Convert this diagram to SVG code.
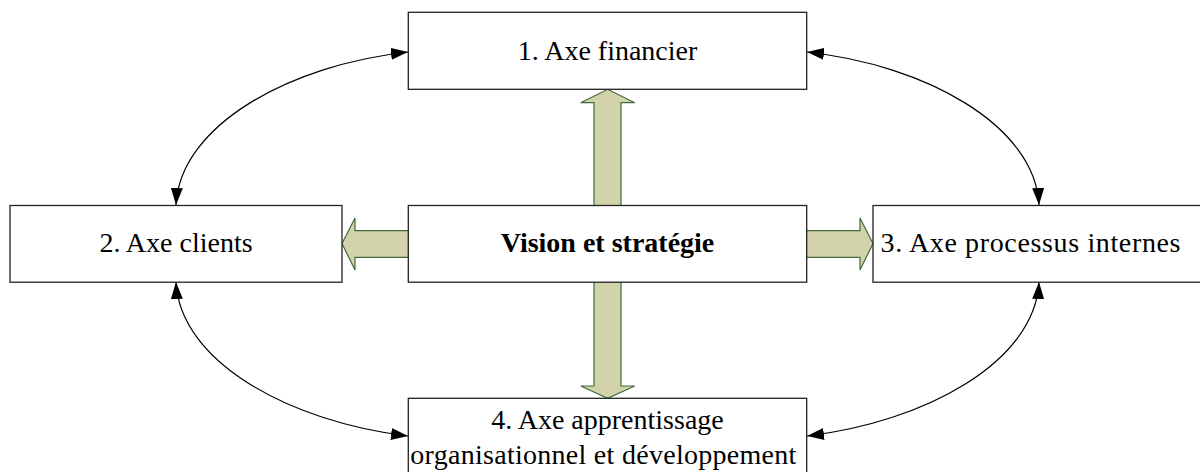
<svg xmlns="http://www.w3.org/2000/svg" width="1200" height="472" viewBox="0 0 1200 472">
<style>
.box{fill:#ffffff;stroke:#222222;stroke-width:1.3}
.lbl{font-family:"Liberation Serif","Times New Roman",serif;font-size:28px;fill:#000000;text-anchor:middle}
.bold{font-weight:bold}
.blk{fill:#d2d3aa;stroke:#41693f;stroke-width:1.2;stroke-linejoin:miter}
.conn{fill:none;stroke:#000000;stroke-width:1.2}
</style>
<defs>
<marker id="ah" markerUnits="userSpaceOnUse" viewBox="0 0 17 12" markerWidth="17" markerHeight="12" refX="17" refY="6" orient="auto-start-reverse">
<path d="M0,0 L17,6 L0,12 z" fill="#000000"/>
</marker>
</defs>
<rect width="1200" height="472" fill="#ffffff"/>
<g id="block-arrows">
<path class="blk" d="M594,206 L594,102.7 L580.7,102.7 L607.7,89.3 L634.7,102.7 L621,102.7 L621,206 Z"/>
<path class="blk" d="M594,281 L594,386 L580.7,386 L607.7,398.3 L634.7,386 L621,386 L621,281 Z"/>
<path class="blk" d="M409,230.7 L355,230.7 L355,218 L342,243.5 L355,270 L355,257.3 L409,257.3 Z"/>
<path class="blk" d="M806,230.7 L860,230.7 L860,218 L873,243.5 L860,270 L860,257.3 L806,257.3 Z"/>
</g>
<g id="connectors">
<path class="conn" marker-start="url(#ah)" marker-end="url(#ah)" d="M176,205 C180,125 290,65 408,52"/>
<path class="conn" marker-start="url(#ah)" marker-end="url(#ah)" d="M1039,205 C1035,125 925,65 807,52"/>
<path class="conn" marker-start="url(#ah)" marker-end="url(#ah)" d="M176,282 C180,362 290,422 408,436"/>
<path class="conn" marker-start="url(#ah)" marker-end="url(#ah)" d="M1039,282 C1035,362 925,422 807,436"/>
</g>
<g id="n1">
<rect class="box" x="408.3" y="12.3" width="398.4" height="77"/>
<text class="lbl" x="607.5" y="60">1. Axe financier</text>
</g>
<g id="n2">
<rect class="box" x="10" y="205.5" width="332" height="76.7"/>
<text class="lbl" x="176" y="251.7">2. Axe clients</text>
</g>
<g id="n0">
<rect class="box" x="408.3" y="205.5" width="398.4" height="76.7"/>
<text class="lbl bold" x="607.5" y="251.7">Vision et stratégie</text>
</g>
<g id="n3">
<rect class="box" x="873" y="205.5" width="332" height="76.7"/>
<text class="lbl" x="1030.5" y="251.7" textLength="300" lengthAdjust="spacing">3. Axe processus internes</text>
</g>
<g id="n4">
<rect class="box" x="408.3" y="398.3" width="398.4" height="80"/>
<text class="lbl" x="607.5" y="429.3">4. Axe apprentissage</text>
<text class="lbl" x="603.3" y="464" textLength="386" lengthAdjust="spacing">organisationnel et développement</text>
</g>
</svg>
